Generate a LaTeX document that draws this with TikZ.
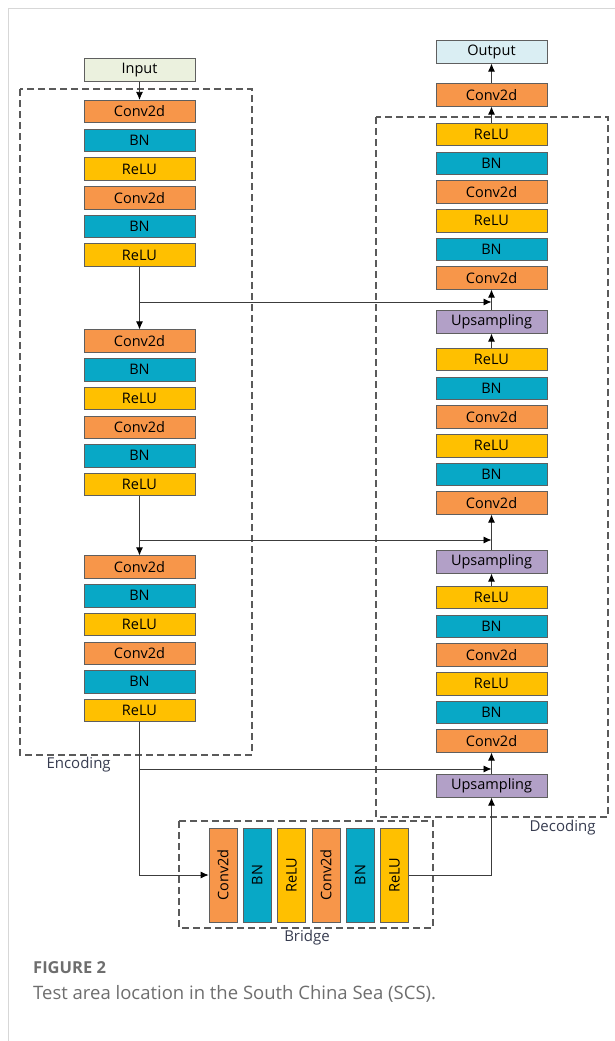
\documentclass[tikz,border=0pt]{standalone}
\usepackage{fontspec}
\setmainfont{Open Sans}
\usepackage{tikz}
\usetikzlibrary{arrows.meta}
\definecolor{convc}{RGB}{247,150,74}
\definecolor{bnc}{RGB}{8,168,198}
\definecolor{reluc}{RGB}{255,192,0}
\definecolor{upc}{RGB}{178,160,199}
\definecolor{inc}{RGB}{235,241,222}
\definecolor{outc}{RGB}{218,238,243}
\definecolor{boxline}{RGB}{95,95,95}
\definecolor{dashc}{RGB}{90,90,90}
\definecolor{linec}{RGB}{60,60,60}
\definecolor{lblc}{RGB}{55,60,80}
\definecolor{capc}{RGB}{110,110,110}
\definecolor{framec}{RGB}{215,215,215}

\begin{document}
\begin{tikzpicture}[x=1pt, y=-1pt, blk/.style={draw=boxline, line width=0.7pt, minimum width=111pt, minimum height=22.5pt, inner sep=0pt, font=\fontsize{14.5}{14.5}\selectfont}, conv/.style={blk, fill=convc}, bn/.style={blk, fill=bnc}, relu/.style={blk, fill=reluc}, upsm/.style={blk, fill=upc}, vb/.style={minimum width=28pt, minimum height=94pt}, grp/.style={draw=dashc, line width=1.1pt, dash pattern=on 7pt off 4pt}, arr/.style={draw=linec, line width=0.8pt, -{Latex[length=8pt,width=7pt,color=black]}}, lbl/.style={font=\fontsize{15}{15}\selectfont, text=lblc}]
	\useasboundingbox (0,0) rectangle (615,1041);
	\draw[framec, line width=0.8pt] (8,1041) -- (8,8) -- (615,8);
	% encoder
	\node[blk, fill=inc] (in) at (139.5,70) {Input};
	\foreach \b/\y in {1/111.5, 2/341, 3/567} {
		\foreach \s/\t [count=\i] in {conv/Conv2d, bn/BN, relu/ReLU, conv/Conv2d, bn/BN, relu/ReLU} {\node[\s] (e\b-\i) at (139.5,{\y+(\i-1)*28.7}) {\t};}
	}
	\draw[grp] (20,89) rectangle (252,755);
	\node[lbl, anchor=west] (enc) at (43,765) {Encoding};
	% decoder
	\node[blk, fill=outc] (out) at (491.5,52) {Output};
	\node[conv] (oc) at (491.5,95) {Conv2d};
	\foreach \b/\y in {1/134.5, 2/359.5, 3/597.5} {
		\foreach \s/\t [count=\i] in {relu/ReLU, bn/BN, conv/Conv2d, relu/ReLU, bn/BN, conv/Conv2d} {\node[\s] (d\b-\i) at (491.5,{\y+(\i-1)*28.7}) {\t};}
	}
	\node[upsm] (u1) at (491.5,322) {Upsampling}; \node[upsm] (u2) at (491.5,562) {Upsampling}; \node[upsm] (u3) at (491.5,786) {Upsampling};
	\draw[grp] (376,117) rectangle (608,817);
	\node[lbl, anchor=east] (dec) at (599,828) {Decoding};
	% bridge
	\foreach \s/\t [count=\i] in {conv/Conv2d, bn/BN, relu/ReLU, conv/Conv2d, bn/BN, relu/ReLU} {\node[\s, vb] (br\i) at ({223+(\i-1)*34.3},875) {\rotatebox{90}{\t}};}
	\draw[grp] (179,821) rectangle (433,928);
	\node[lbl] (brl) at (307,938) {Bridge};
	% connectors
	\draw[arr] (in) -- (e1-1);
	\draw[arr] (e1-6) -- (e2-1); \draw[arr] (e2-6) -- (e3-1);
	\draw[arr] (e3-6) |- (br1);
	\draw[arr] (br6) -| (u3);
	\draw[arr] (u3) -- (d3-6); \draw[arr] (d3-1) -- (u2); \draw[arr] (u2) -- (d2-6); \draw[arr] (d2-1) -- (u1); \draw[arr] (u1) -- (d1-6); \draw[arr] (d1-1) -- (oc); \draw[arr] (oc) -- (out);
	\coordinate (k1) at (139.5,302); \coordinate (k2) at (139.5,540); \coordinate (k3) at (139.5,769);
	\foreach \k in {k1,k2,k3} {\draw[arr] (\k) -- (\k -| u1);}
	% caption
	\node[anchor=west, text=capc, font=\bfseries\fontsize{16.5}{16.5}\selectfont, inner sep=0pt] (fig) at (33,968) {FIGURE 2};
	\node[anchor=west, text=capc, font=\fontsize{18.5}{18.5}\selectfont, inner sep=0pt] (cap) at (33,994) {Test area location in the South China Sea (SCS).};
\end{tikzpicture}
\end{document}
